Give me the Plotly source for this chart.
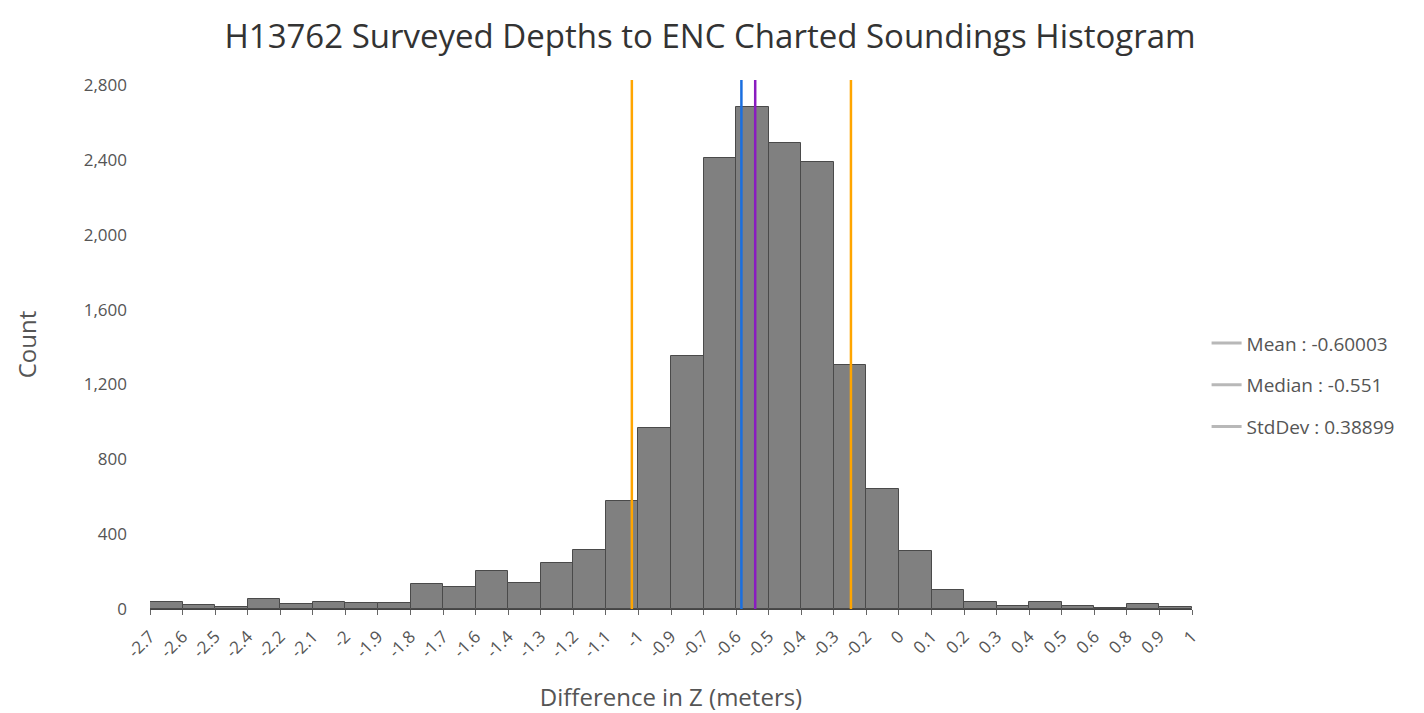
import numpy as np
import plotly.graph_objects as go

# ---- data ----
x_min = -2.7
x_max = 1.0
n_bins = 32
counts = [40, 20, 12, 52, 28, 40, 30, 33, 133, 115, 202, 140, 245, 315, 578, 968,
          1350, 2412, 2685, 2492, 2392, 1303, 642, 308, 102, 38, 16, 38, 17, 3, 28, 12]
tick_labels = ["-2.7", "-2.6", "-2.5", "-2.4", "-2.2", "-2.1", "-2", "-1.9", "-1.8",
               "-1.7", "-1.6", "-1.4", "-1.3", "-1.2", "-1.1", "-1", "-0.9", "-0.7",
               "-0.6", "-0.5", "-0.4", "-0.3", "-0.2", "0", "0.1", "0.2", "0.3", "0.4",
               "0.5", "0.6", "0.8", "0.9", "1"]
y_ticks = [0, 400, 800, 1200, 1600, 2000, 2400, 2800]
mean_val = -0.60003
median_val = -0.551
std_val = 0.38899

edges = np.linspace(x_min, x_max, n_bins + 1)
width = (x_max - x_min) / n_bins
centers = (edges[:-1] + edges[1:]) / 2

FONT = "Open Sans"
fig = go.Figure()
fig.add_trace(go.Bar(
    x=centers, y=counts, width=width,
    marker=dict(color="#808080", line=dict(color="#4a4a4a", width=1)),
    showlegend=False, hoverinfo="x+y",
))

legend_items = [f"Mean : {mean_val}", f"Median : {median_val}", f"StdDev : {std_val}"]
for i, name in enumerate(legend_items):
    fig.add_trace(go.Scatter(
        x=[None], y=[None], mode="lines", name=name,
        line=dict(color="#b8b8b8", width=3), legendgroup=f"g{i}",
    ))

line_specs = [
    (mean_val - std_val, "#FFA500"),
    (mean_val + std_val, "#FFA500"),
    (mean_val, "#1a6fe0"),
    (median_val, "#8a1cc0"),
]
for xv, col in line_specs:
    fig.add_shape(type="line", xref="x", yref="paper", x0=xv, x1=xv, y0=0, y1=1,
                  line=dict(color=col, width=2.5))

fig.update_layout(
    width=1416, height=705,
    margin=dict(l=142, r=232, t=72, b=104),
    paper_bgcolor="white", plot_bgcolor="white",
    font=dict(family=FONT, color="#555555"),
    title=dict(text="H13762 Surveyed Depths to ENC Charted Soundings Histogram",
               x=0.4958, xanchor="center", y=0.960, yanchor="middle",
               font=dict(size=33, color="#333333", family=FONT)),
    bargap=0,
    legend=dict(x=1.014, y=0.423, xanchor="left", yanchor="middle",
                font=dict(size=19, color="#555555"), tracegroupgap=14,
                bgcolor="rgba(0,0,0,0)"),
    xaxis=dict(
        range=[x_min, x_max], tickmode="array", tickvals=edges, ticktext=tick_labels,
        tickangle=-45, tickfont=dict(size=17, color="#555555"), automargin=False,
        showgrid=False, zeroline=False, showline=True, linecolor="#444444", linewidth=1,
        ticks="outside", ticklen=5, tickcolor="#666666", ticklabelstandoff=5,
        title=dict(text="Difference in Z (meters)", font=dict(size=24, color="#555555"),
                   standoff=30),
    ),
    yaxis=dict(
        range=[0, 2828], tickmode="array", tickvals=y_ticks,
        tickformat=",d", tickfont=dict(size=17, color="#555555"), automargin=False,
        showgrid=False, zeroline=False, showline=False, ticklabelstandoff=22,
        title=dict(text="Count", font=dict(size=24, color="#555555"), standoff=40),
    ),
)

fig.write_html("out.html")
